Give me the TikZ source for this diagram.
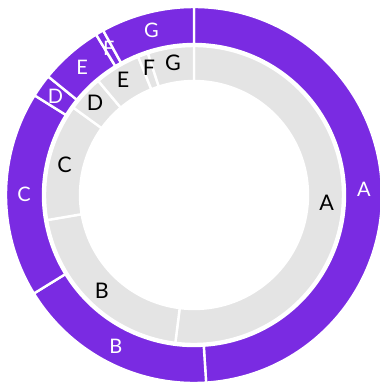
\documentclass[tikz,border=0pt]{standalone}
\usepackage{fontspec}
\setmainfont{Lato}
\definecolor{ringpurple}{RGB}{122,43,226}
\definecolor{ringgray}{RGB}{228,228,228}
\tikzset{
  outerseg/.style={fill=ringpurple, draw=white, line width=2.4pt, line join=miter},
  innerseg/.style={fill=ringgray, draw=white, line width=2.4pt, line join=miter},
  outerlabel/.style={text=white, font=\fontsize{20}{20}\selectfont, inner sep=0pt},
  innerlabel/.style={text=black, font=\fontsize{21.5}{21.5}\selectfont, inner sep=0pt}
}
\newcommand\ringseg[5]{%
  \filldraw[#5] ({90-#3}:#2pt) arc[start angle={90-#3}, end angle={90-#4}, radius=#2pt]
    -- ({90-#4}:#1pt) arc[start angle={90-#4}, end angle={90-#3}, radius=#1pt] -- cycle;}
\begin{document}
\begin{tikzpicture}
\useasboundingbox (-194pt,-191pt) rectangle (186pt,195pt);
% outer ring
\ringseg{151}{188}{0}{176.3}{outerseg}
\ringseg{151}{188}{176.3}{238.4}{outerseg}
\ringseg{151}{188}{238.4}{302}{outerseg}
\ringseg{151}{188}{302}{309.1}{outerseg}
\ringseg{151}{188}{309.1}{328.6}{outerseg}
\ringseg{151}{188}{328.6}{331.1}{outerseg}
\ringseg{151}{188}{331.1}{360}{outerseg}
% inner ring
\ringseg{114}{149}{0}{187.2}{innerseg}
\ringseg{114}{149}{187.2}{260.3}{innerseg}
\ringseg{114}{149}{260.3}{305.9}{innerseg}
\ringseg{114}{149}{305.9}{320}{innerseg}
\ringseg{114}{149}{320}{338}{innerseg}
\ringseg{114}{149}{338}{342}{innerseg}
\ringseg{114}{149}{342}{360}{innerseg}
% outer labels
\node[outerlabel] (oA) at ({90-88.2}:170pt) {A};
\node[outerlabel] (oB) at ({90-207.4}:170pt) {B};
\node[outerlabel] (oC) at ({90-270.2}:170pt) {C};
\node[outerlabel] (oD) at ({90-305.5}:170pt) {D};
\node[outerlabel] (oE) at ({90-318.8}:170pt) {E};
\node[outerlabel] (oF) at ({90-329.9}:170pt) {F};
\node[outerlabel] (oG) at ({90-345.5}:170pt) {G};
% inner labels
\node[innerlabel] (iA) at ({90-93.4}:133pt) {A};
\node[innerlabel] (iB) at ({90-223.8}:133pt) {B};
\node[innerlabel] (iC) at ({90-283.1}:133pt) {C};
\node[innerlabel] (iD) at ({90-312.9}:135pt) {D};
\node[innerlabel] (iE) at ({90-328.3}:135pt) {E};
\node[innerlabel] (iF) at ({90-340.5}:135pt) {F};
\node[innerlabel] (iG) at ({90-351}:134pt) {G};
\end{tikzpicture}
\end{document}
